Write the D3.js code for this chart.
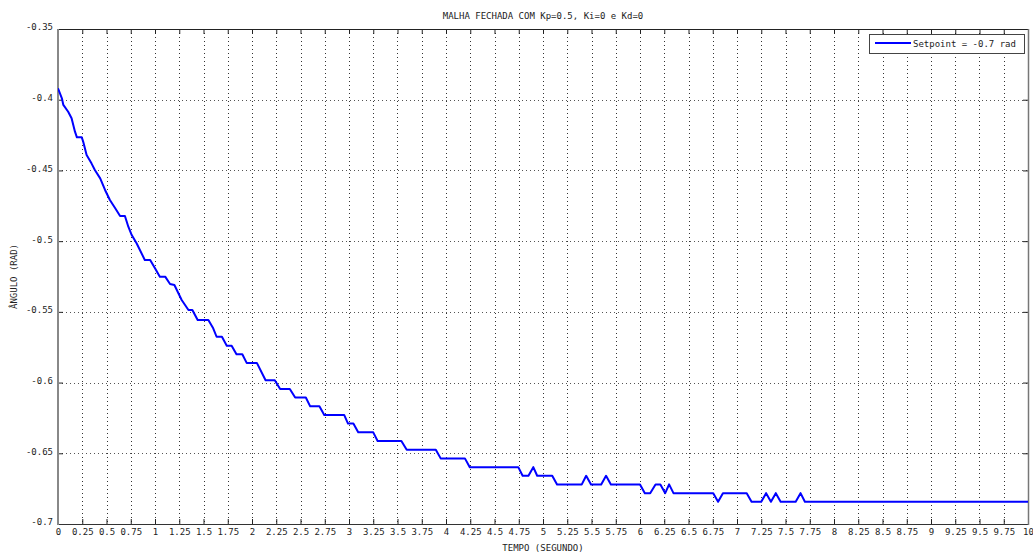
<!DOCTYPE html>
<html>
<head>
<meta charset="utf-8">
<script src="https://cdn.jsdelivr.net/npm/d3@7"></script>
<style>
  html, body { margin: 0; padding: 0; background: #fff; }
  svg { display: block; }
  text { font-family: "DejaVu Sans Mono", monospace; font-size: 9px; fill: #222; }
</style>
</head>
<body>
<svg id="chart" width="1033" height="554"></svg>
<script>
// Closed-loop response: time (s) and measured angle (rad)
const timeSec = [
  0, 0.04, 0.055, 0.105, 0.14, 0.175, 0.195, 0.245, 0.26, 0.295,
  0.345, 0.38, 0.435, 0.485, 0.535, 0.59, 0.64, 0.69, 0.725, 0.76,
  0.81, 0.895, 0.95, 1.0, 1.05, 1.105, 1.155, 1.2, 1.275, 1.345,
  1.385, 1.44, 1.55, 1.6, 1.635, 1.69, 1.74, 1.79, 1.84, 1.9,
  1.945, 2.05, 2.14, 2.235, 2.29, 2.39, 2.445, 2.555, 2.6, 2.695,
  2.745, 2.95, 2.99, 3.045, 3.095, 3.25, 3.295, 3.54, 3.595, 3.895,
  3.945, 4.195, 4.245, 4.745, 4.79, 4.85, 4.9, 4.94, 5.095, 5.145,
  5.4, 5.445, 5.495, 5.6, 5.65, 5.7, 6.0, 6.05, 6.105, 6.16,
  6.21, 6.26, 6.3, 6.345, 6.755, 6.805, 6.855, 7.1, 7.15, 7.25,
  7.3, 7.35, 7.4, 7.45, 7.605, 7.655, 7.7, 10
];
const angleRad = [
  -0.3919, -0.3990, -0.4037, -0.4085, -0.4131, -0.4226, -0.4266, -0.4266, -0.4297, -0.4391,
  -0.4450, -0.4497, -0.4556, -0.4638, -0.4709, -0.4768, -0.4822, -0.4822, -0.4898, -0.4957,
  -0.5015, -0.5133, -0.5133, -0.5192, -0.5251, -0.5251, -0.5303, -0.5310, -0.5416, -0.5487,
  -0.5487, -0.5558, -0.5558, -0.5616, -0.5676, -0.5676, -0.5739, -0.5739, -0.5800, -0.5800,
  -0.5861, -0.5861, -0.5984, -0.5984, -0.6045, -0.6045, -0.6106, -0.6106, -0.6168, -0.6168,
  -0.6229, -0.6229, -0.6290, -0.6290, -0.6352, -0.6352, -0.6413, -0.6413, -0.6475, -0.6475,
  -0.6536, -0.6536, -0.6598, -0.6598, -0.6659, -0.6659, -0.6598, -0.6659, -0.6659, -0.6720,
  -0.6720, -0.6659, -0.6720, -0.6720, -0.6659, -0.6720, -0.6720, -0.6782, -0.6782, -0.6720,
  -0.6720, -0.6782, -0.6720, -0.6782, -0.6782, -0.6843, -0.6782, -0.6782, -0.6843, -0.6843,
  -0.6782, -0.6843, -0.6782, -0.6843, -0.6843, -0.6782, -0.6843, -0.6843
];

const xTicks = [0, 0.25, 0.5, 0.75, 1, 1.25, 1.5, 1.75, 2, 2.25, 2.5, 2.75, 3, 3.25, 3.5, 3.75,
  4, 4.25, 4.5, 4.75, 5, 5.25, 5.5, 5.75, 6, 6.25, 6.5, 6.75, 7, 7.25, 7.5, 7.75,
  8, 8.25, 8.5, 8.75, 9, 9.25, 9.5, 9.75, 10];
const yTicks = [-0.7, -0.65, -0.6, -0.55, -0.5, -0.45, -0.4, -0.35];
const yTickLabels = ["-0.7", "-0.65", "-0.6", "-0.55", "-0.5", "-0.45", "-0.4", "-0.35"];

const titleText = "MALHA FECHADA COM Kp=0.5, Ki=0 e Kd=0";
const xLabelText = "TEMPO (SEGUNDO)";
const yLabelText = "ÂNGULO (RAD)";
const legendText = "Setpoint = -0.7 rad";

const margin = { left: 58, top: 29, right: 1028, bottom: 524 };

const svg = d3.select("#chart");
const x = d3.scaleLinear().domain([0, 10]).range([margin.left, margin.right]);
const y = d3.scaleLinear().domain([-0.7, -0.35]).range([margin.bottom, margin.top]);

const data = timeSec.map((t, i) => ({ t, v: angleRad[i] }));

// dotted grid
const grid = svg.append("g").attr("class", "grid");
grid.selectAll("line.gx").data(xTicks.slice(1, -1)).join("line")
  .attr("x1", d => Math.round(x(d)) + 0.5).attr("x2", d => Math.round(x(d)) + 0.5)
  .attr("y1", margin.top).attr("y2", margin.bottom)
  .attr("stroke", "#333").attr("stroke-width", 1).attr("stroke-dasharray", "1,3");
grid.selectAll("line.gy").data(yTicks.slice(1, -1)).join("line")
  .attr("y1", d => Math.round(y(d)) + 0.5).attr("y2", d => Math.round(y(d)) + 0.5)
  .attr("x1", margin.left).attr("x2", margin.right)
  .attr("stroke", "#555").attr("stroke-width", 1).attr("stroke-dasharray", "1,3");

// axes with inward ticks on all four sides
const fmtY = d => yTickLabels[yTicks.indexOf(d)];
const bottomAxis = svg.append("g").attr("transform", `translate(0,${margin.bottom})`)
  .call(d3.axisBottom(x).tickValues(xTicks).tickSize(-5).tickPadding(5).tickFormat(d => String(d)));
const leftAxis = svg.append("g").attr("transform", `translate(${margin.left},0)`)
  .call(d3.axisLeft(y).tickValues(yTicks).tickSize(-5).tickPadding(5).tickFormat(fmtY));
const topAxis = svg.append("g").attr("transform", `translate(0,${margin.top})`)
  .call(d3.axisTop(x).tickValues(xTicks).tickSize(-5).tickFormat(""));
const rightAxis = svg.append("g").attr("transform", `translate(${margin.right},0)`)
  .call(d3.axisRight(y).tickValues(yTicks).tickSize(-5).tickFormat(""));

[bottomAxis, leftAxis, topAxis, rightAxis].forEach(g => {
  g.selectAll(".domain").remove();
  g.selectAll(".tick line").attr("stroke", "#222");
  g.selectAll("text").attr("font-family", "DejaVu Sans Mono").attr("font-size", 9).attr("fill", "#222");
});
leftAxis.selectAll("text").attr("dy", "0.1em");

// plot frame
svg.append("line").attr("x1", margin.left).attr("x2", margin.right)
  .attr("y1", margin.top + 0.5).attr("y2", margin.top + 0.5).attr("stroke", "#222");
svg.append("line").attr("x1", margin.left).attr("x2", margin.right + 1)
  .attr("y1", margin.bottom + 0.5).attr("y2", margin.bottom + 0.5).attr("stroke", "#333");
svg.append("line").attr("x1", margin.left).attr("x2", margin.left)
  .attr("y1", margin.top).attr("y2", margin.bottom + 1).attr("stroke", "#888").attr("stroke-width", 2);
svg.append("line").attr("x1", margin.right + 0.5).attr("x2", margin.right + 0.5)
  .attr("y1", margin.top).attr("y2", margin.bottom + 1).attr("stroke", "#777").attr("stroke-width", 1.5);

// response curve
svg.append("defs").append("clipPath").attr("id", "plotClip")
  .append("rect").attr("x", margin.left).attr("y", margin.top)
  .attr("width", margin.right - margin.left).attr("height", margin.bottom - margin.top);

const line = d3.line().x(d => x(d.t)).y(d => y(d.v));
svg.append("path").datum(data)
  .attr("clip-path", "url(#plotClip)")
  .attr("d", line)
  .attr("fill", "none")
  .attr("stroke", "#0000ff")
  .attr("stroke-width", 2)
  .attr("stroke-linejoin", "round");

// title and axis labels
const cx = (margin.left + margin.right) / 2;
svg.append("text").attr("x", cx).attr("y", 19).attr("text-anchor", "middle").text(titleText);
svg.append("text").attr("x", cx).attr("y", 551).attr("text-anchor", "middle").text(xLabelText);
svg.append("text").attr("transform", `translate(17,${(margin.top + margin.bottom) / 2}) rotate(-90)`)
  .attr("text-anchor", "middle").text(yLabelText);

// legend
const legend = svg.append("g").attr("transform", "translate(869,34)");
legend.append("rect").attr("x", 0.5).attr("y", 0.5).attr("width", 155).attr("height", 19)
  .attr("fill", "#fff").attr("stroke", "#444");
legend.append("line").attr("x1", 6).attr("x2", 42).attr("y1", 9).attr("y2", 9)
  .attr("stroke", "#0000ff").attr("stroke-width", 2);
legend.append("text").attr("x", 44).attr("y", 13).text(legendText);
</script>
</body>
</html>
